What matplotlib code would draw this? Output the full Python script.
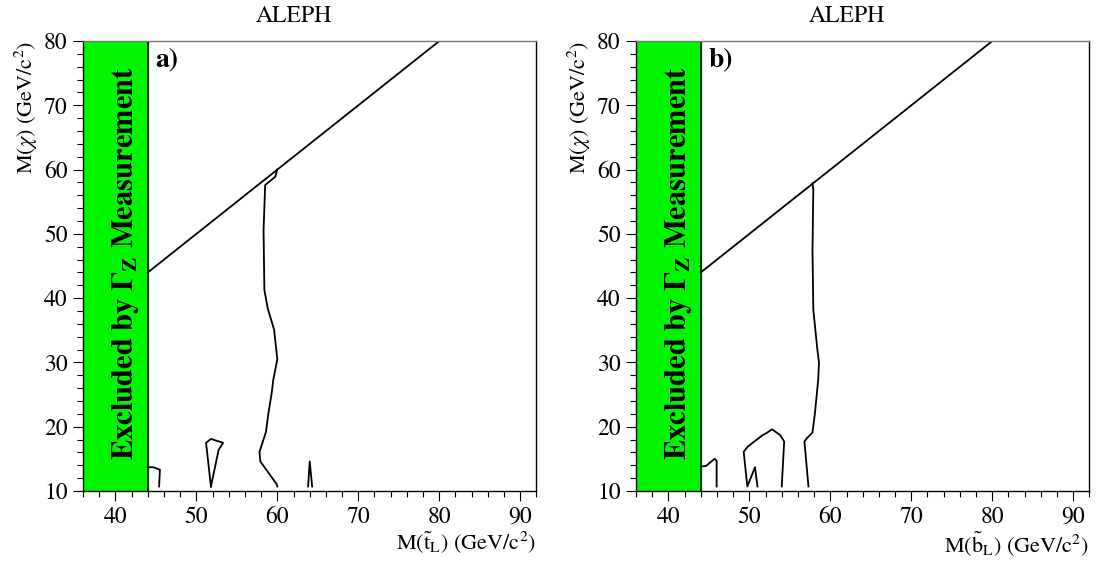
"""Limites ALEPH sur M(chi) en fonction de la masse du squark."""

import matplotlib
matplotlib.use("Agg")
import matplotlib.pyplot as plt
from matplotlib.ticker import MultipleLocator

plt.rcParams['font.family'] = ['STIXGeneral', 'DejaVu Serif']
plt.rcParams['mathtext.fontset'] = 'stix'

# Limite cinematique M(chi) = M(squark)
diag_x = [44, 80]
diag_y = [44, 80]

# Bande exclue par la mesure de Gamma_Z
band_x = [36, 44]

# a) stop : contours
a_main_x = [60.0, 59.9, 57.9, 57.8, 58.6, 58.9, 59.3, 59.5, 60.0, 59.6,
            58.8, 58.4, 58.3, 58.5, 59.75, 60.0]
a_main_y = [10.7, 11.1, 14.6, 16.1, 19.2, 22.1, 25.2, 27.3, 30.5, 35.1,
            38.5, 41.3, 50.6, 57.6, 58.9, 60.05]
a_isl_x = [51.8, 51.2, 51.8, 53.3, 52.75, 51.8]
a_isl_y = [10.7, 17.5, 18.1, 17.5, 16.4, 10.7]
a_left_x = [44.0, 44.7, 45.5, 45.4]
a_left_y = [13.7, 13.7, 13.3, 10.7]
a_spike_x = [63.8, 64.0, 64.3]
a_spike_y = [10.7, 14.6, 10.7]

# b) sbottom : contours
b_main_x = [57.3, 56.8, 57.1, 57.8, 58.1, 58.5, 58.6, 58.4, 57.9, 57.8,
            57.9, 57.8]
b_main_y = [10.7, 17.7, 18.2, 19.1, 22.1, 27.3, 30.0, 32.0, 38.2, 47.5,
            56.8, 57.9]
b_isl_x = [51.0, 50.7, 49.75, 49.3, 49.8, 51.65, 52.1, 52.8, 53.8, 54.3,
           54.0]
b_isl_y = [10.7, 13.7, 10.7, 16.1, 16.9, 18.7, 19.0, 19.6, 18.7, 17.7,
           10.7]
b_left_x = [44.0, 44.65, 45.7, 45.96, 45.96]
b_left_y = [13.8, 13.9, 15.0, 14.7, 10.7]

panneaux = [
    ('a)', r'M($\tilde{\mathrm{t}}_\mathrm{L}$) (GeV/c$^2$)',
     [(a_main_x, a_main_y), (a_isl_x, a_isl_y), (a_left_x, a_left_y),
      (a_spike_x, a_spike_y)]),
    ('b)', r'M($\tilde{\mathrm{b}}_\mathrm{L}$) (GeV/c$^2$)',
     [(b_main_x, b_main_y), (b_isl_x, b_isl_y), (b_left_x, b_left_y)]),
]

fig = plt.figure(figsize=(10.96, 5.61), dpi=100)
lefts = [83 / 1096, 636 / 1096]

for k, (lettre, xlabel, courbes) in enumerate(panneaux):
    ax = fig.add_axes([lefts[k], 0.1248, 0.4137, 0.802])
    ax.set_xlim(36, 92)
    ax.set_ylim(10, 80)

    ax.axvspan(band_x[0], band_x[1], color='#00f500', zorder=1)
    ax.axvline(band_x[1], color='black', lw=1.2, zorder=2)
    ax.plot(diag_x, diag_y, color='black', lw=1.3)
    for cx, cy in courbes:
        ax.plot(cx, cy, color='black', lw=1.3)

    ax.text(41.2, 45.5,
            r'Excluded by $\mathbf{\Gamma}_{\mathbf{Z}}$ Measurement',
            rotation=90, ha='center', va='center', fontsize=22,
            fontweight='bold', zorder=3)
    ax.text(44.9, 79.0, lettre, fontsize=20, fontweight='bold',
            ha='left', va='top')

    ax.xaxis.set_major_locator(MultipleLocator(10))
    ax.xaxis.set_minor_locator(MultipleLocator(2))
    ax.yaxis.set_major_locator(MultipleLocator(10))
    ax.yaxis.set_minor_locator(MultipleLocator(2))
    ax.tick_params(which='both', direction='out', labelsize=17,
                   top=False, right=False, width=0.8)
    ax.tick_params(which='major', length=7, pad=4)
    ax.tick_params(which='minor', length=4)
    ax.spines['top'].set_color('#777777')
    for s in ax.spines.values():
        s.set_linewidth(1.0)

    ax.set_xlabel(xlabel, fontsize=16, loc='right', labelpad=1)
    ax.set_ylabel(r'M($\chi$) (GeV/c$^2$)', fontsize=16, loc='top',
                  labelpad=3)
    ax.set_title('ALEPH', fontsize=17, x=0.465, pad=14)

plt.savefig("out.png", dpi=100)
